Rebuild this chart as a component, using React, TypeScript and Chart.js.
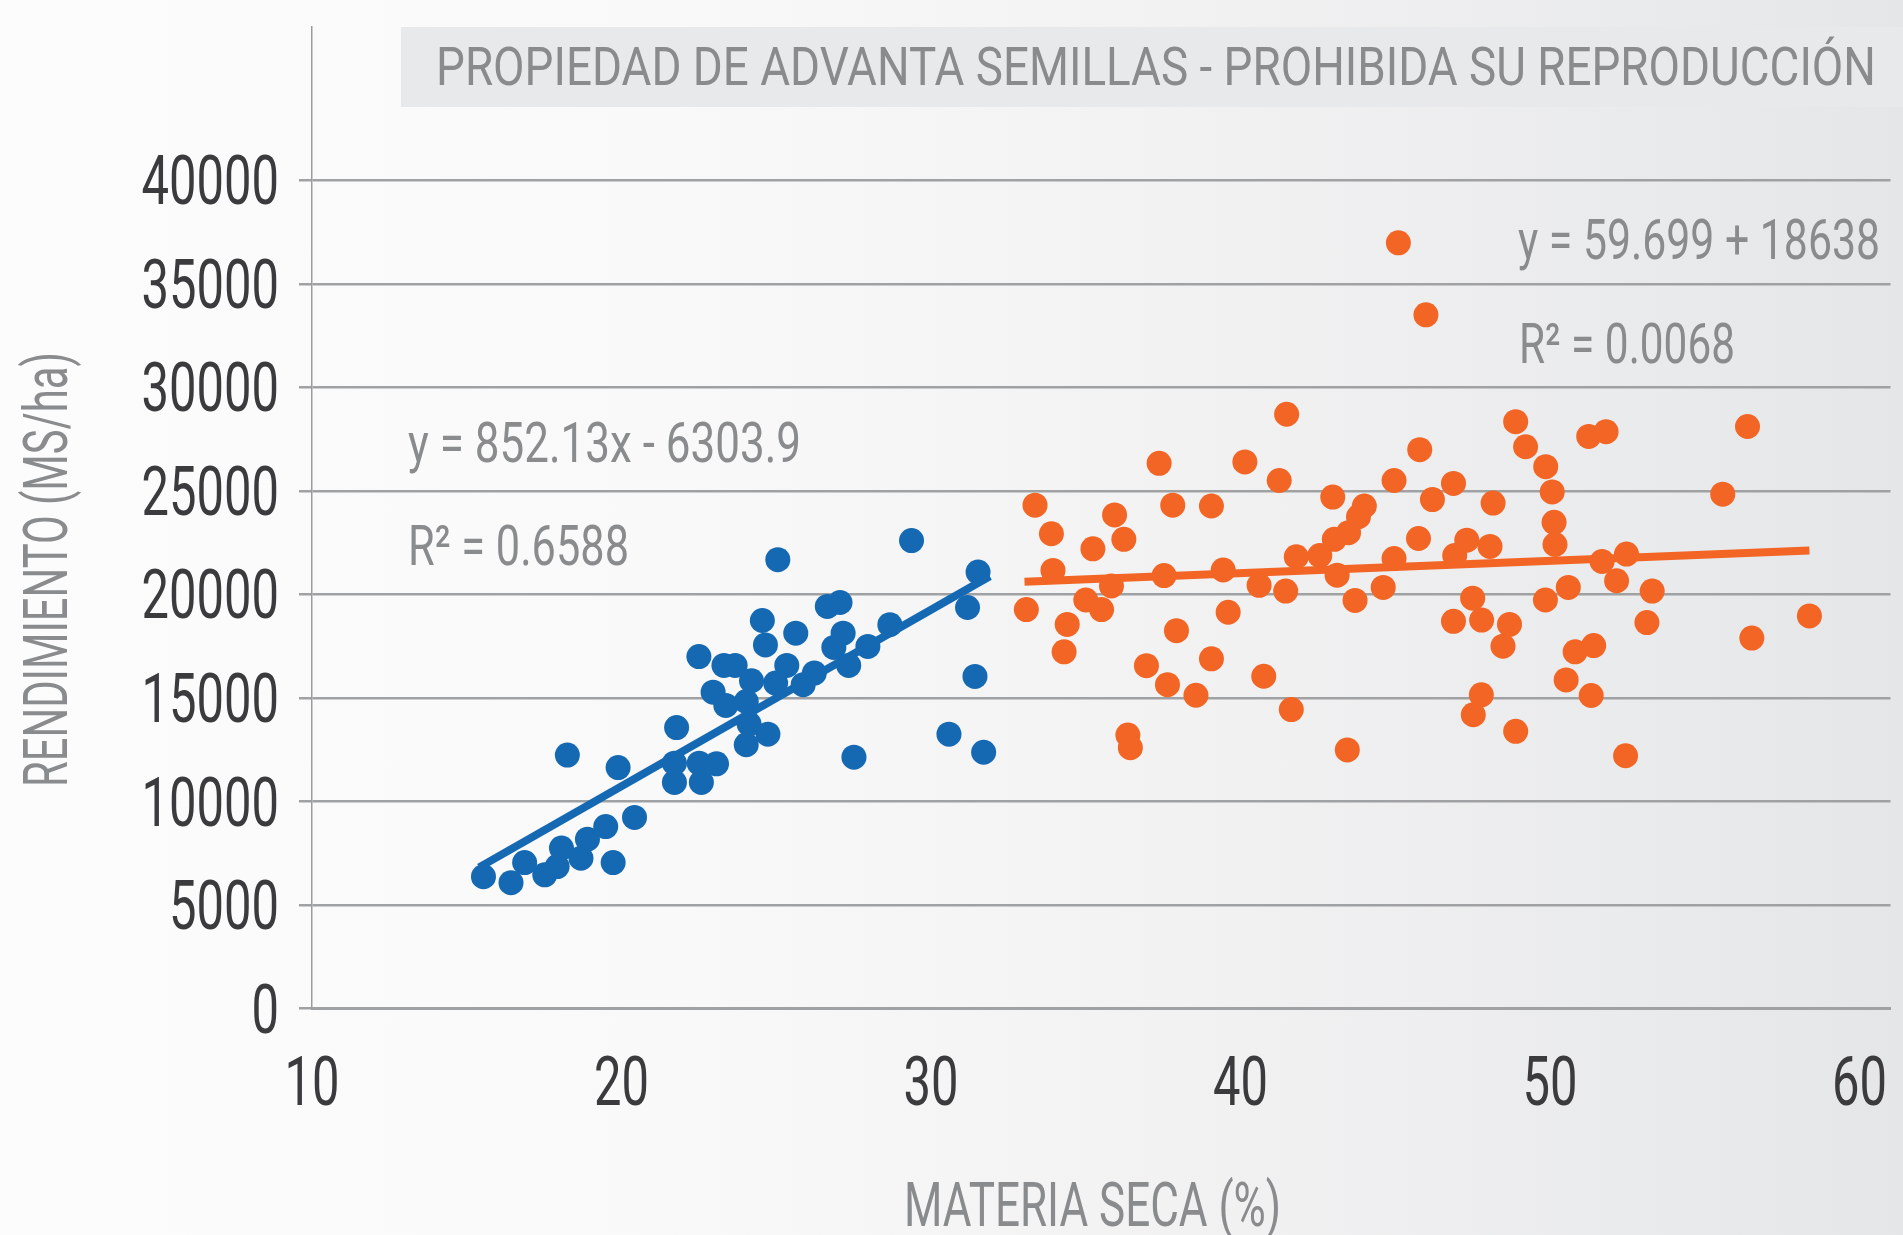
import React, { useEffect, useRef } from "react";
import { Chart, registerables } from "chart.js";

Chart.register(...registerables);

// ---------- data ----------
const blueX = [
  15.54, 16.43, 16.87, 17.52, 17.92, 18.06, 18.25, 18.69, 18.9, 19.49, 19.73, 19.89, 20.42,
  21.71, 21.71, 21.78, 22.5, 22.51, 22.58, 23.07, 22.96, 23.31, 23.37, 23.67, 24.03, 24.03,
  24.12, 24.2, 24.55, 24.65, 24.73, 24.98, 25.05, 25.34, 25.63, 25.87, 26.23, 26.65, 26.86,
  27.06, 27.16, 27.34, 27.51, 27.96, 28.67, 29.37, 30.58, 31.18, 31.42, 31.52, 31.7,
];
const blueY = [
  6370, 6080, 7050, 6460, 6860, 7750, 12240, 7260, 8180, 8790, 7050, 11640, 9230,
  10920, 11850, 13570, 17000, 11850, 10920, 11820, 15280, 16570, 14640, 16570, 14830, 12740,
  13750, 15830, 18740, 17560, 13250, 15720, 21680, 16570, 18130, 15640, 16200, 19420, 17440,
  19610, 18130, 16570, 12140, 17490, 18540, 22600, 13250, 19370, 16040, 21080, 12380,
];
const orangeX = [
  45.1, 45.99, 41.49, 37.37, 40.14, 41.25, 45.79, 44.96, 33.36, 37.81, 39.06, 42.98, 44.0,
  43.81, 46.2, 35.93, 33.89, 35.23, 36.23, 43.49, 43.03, 45.75, 33.94, 41.8, 42.56, 44.96,
  37.53, 39.44, 43.12, 35.83, 40.6, 41.46, 44.61, 43.7, 33.08, 35.0, 35.51, 39.6, 34.4,
  37.93, 34.3, 36.96, 39.06, 37.64, 38.56, 40.75, 41.64, 36.36, 36.44, 43.45,
  48.89, 49.21, 49.86, 50.07, 50.13, 50.16, 51.25, 51.81, 56.38, 55.58, 46.88, 48.16, 47.31,
  48.06, 46.92, 51.68, 52.47, 52.15, 50.59, 53.3, 47.5, 49.85, 46.88, 47.79, 48.69, 53.13,
  58.38, 48.48, 50.81, 51.41, 56.52, 50.52, 47.78, 51.33, 47.52, 48.89, 52.44,
];
const orangeY = [
  36980, 33500, 28700, 26330, 26400, 25500, 26990, 25500, 24310, 24310, 24270, 24700, 24270,
  23750, 24580, 23840, 22930, 22200, 22660, 22980, 22660, 22700, 21160, 21820, 21880, 21730,
  20910, 21180, 20930, 20410, 20440, 20160, 20340, 19710, 19270, 19730, 19270, 19140, 18550,
  18250, 17230, 16560, 16890, 15640, 15130, 16050, 14440, 13210, 12600, 12490,
  28340, 27130, 26170, 24950, 23480, 22410, 27630, 27860, 28110, 24840, 25360, 24410, 22620,
  22320, 21880, 21590, 21950, 20660, 20340, 20160, 19820, 19730, 18700, 18760, 18550, 18640,
  18960, 17500, 17230, 17530, 17890, 15870, 15150, 15120, 14190, 13390, 12210,
];
const blueTrendX = [15.4, 31.9];
const blueTrendY = [6820, 20880];
const orangeTrendX = [33.02, 58.38];
const orangeTrendY = [20610, 22120];

const xTicks = [10, 20, 30, 40, 50, 60];
const yTicks = [0, 5000, 10000, 15000, 20000, 25000, 30000, 35000, 40000];

const titleText = "PROPIEDAD DE ADVANTA SEMILLAS - PROHIBIDA SU REPRODUCCIÓN";
const xTitle = "MATERIA SECA (%)";
const yTitle = "RENDIMIENTO (MS/ha)";
const blueEq = "y = 852.13x - 6303.9";
const blueR2 = "R² = 0.6588";
const orangeEq = "y = 59.699 + 18638";
const orangeR2 = "R² = 0.0068";

// ---------- styles ----------
const FONT = "Roboto, 'DejaVu Sans', sans-serif";
const BLUE = "#1569b3";
const ORANGE = "#f26524";
const GREY_TEXT = "#8a8b8d";
const DARK_TEXT = "#3b3b3d";
const GRID = "#a0a1a3";
const TICK_SIZE = 68;
const TICK_SX = 0.72;

function fitText(
  ctx: CanvasRenderingContext2D,
  text: string,
  left: number,
  right: number,
  baseline: number,
  size: number,
  color: string
) {
  ctx.save();
  ctx.font = `400 ${size}px ${FONT}`;
  ctx.fillStyle = color;
  ctx.textAlign = "left";
  ctx.textBaseline = "alphabetic";
  const w = ctx.measureText(text).width;
  ctx.translate(left, baseline);
  ctx.scale((right - left) / w, 1);
  ctx.fillText(text, 0, 0);
  ctx.restore();
}

function tickText(
  ctx: CanvasRenderingContext2D,
  text: string,
  x: number,
  baseline: number,
  align: CanvasTextAlign
) {
  ctx.save();
  ctx.font = `400 ${TICK_SIZE}px ${FONT}`;
  ctx.fillStyle = DARK_TEXT;
  ctx.textAlign = align;
  ctx.textBaseline = "alphabetic";
  ctx.translate(x, baseline);
  ctx.scale(TICK_SX, 1);
  ctx.fillText(text, 0, 0);
  ctx.restore();
}

const textPlugin = {
  id: "texts",
  beforeDatasetsDraw(chart: any) {
    const ctx = chart.ctx as CanvasRenderingContext2D;
    ctx.save();
    ctx.fillStyle = "#e8e9ea";
    ctx.fillRect(401, 27, 1903 - 401, 80);
    ctx.restore();
  },
  afterDraw(chart: any) {
    const ctx = chart.ctx as CanvasRenderingContext2D;
    const xs = chart.scales.x;
    const ys = chart.scales.y;
    // tick labels, positioned by the chart's own scales
    for (const t of ys.ticks) {
      const py = ys.getPixelForValue(t.value);
      tickText(ctx, String(t.value), ys.right - 33, py + 24, "right");
    }
    for (const t of xs.ticks) {
      const px = xs.getPixelForValue(t.value);
      tickText(ctx, String(t.value), px, xs.top + 96, "center");
    }
    fitText(ctx, titleText, 436, 1876, 85, 54, GREY_TEXT);
    fitText(ctx, blueEq, 408, 801, 462, 56, GREY_TEXT);
    fitText(ctx, blueR2, 408, 629, 565, 56, GREY_TEXT);
    fitText(ctx, orangeEq, 1518, 1880, 259, 56, GREY_TEXT);
    fitText(ctx, orangeR2, 1519, 1735, 363, 56, GREY_TEXT);
    fitText(ctx, xTitle, 904, 1281, 1226, 62, GREY_TEXT);
    ctx.save();
    ctx.translate(67, 787);
    ctx.rotate(-Math.PI / 2);
    fitText(ctx, yTitle, 0, 787 - 352, 0, 62, GREY_TEXT);
    ctx.restore();
  },
};

export default function App() {
  const ref = useRef<HTMLCanvasElement | null>(null);

  useEffect(() => {
    document.body.style.margin = "0";
    const canvas = ref.current;
    if (!canvas) return;
    const chart = new Chart(canvas, {
      type: "scatter",
      data: {
        datasets: [
          {
            type: "line",
            label: "trend-blue",
            data: blueTrendX.map((x, i) => ({ x, y: blueTrendY[i] })),
            borderColor: BLUE,
            borderWidth: 8,
            borderCapStyle: "butt",
            pointRadius: 0,
            fill: false,
            tension: 0,
          } as any,
          {
            type: "line",
            label: "trend-orange",
            data: orangeTrendX.map((x, i) => ({ x, y: orangeTrendY[i] })),
            borderColor: ORANGE,
            borderWidth: 8,
            borderCapStyle: "butt",
            pointRadius: 0,
            fill: false,
            tension: 0,
          } as any,
          {
            label: "blue",
            data: blueX.map((x, i) => ({ x, y: blueY[i] })),
            backgroundColor: BLUE,
            borderWidth: 0,
            pointRadius: 12.5,
          },
          {
            label: "orange",
            data: orangeX.map((x, i) => ({ x, y: orangeY[i] })),
            backgroundColor: ORANGE,
            borderWidth: 0,
            pointRadius: 12.5,
          },
        ],
      },
      options: {
        responsive: false,
        animation: false,
        layout: { padding: { top: 27, right: 11, bottom: 0, left: 0 } },
        plugins: {
          legend: { display: false },
          tooltip: { enabled: false },
          title: { display: false },
        },
        scales: {
          x: {
            type: "linear",
            min: 10,
            max: 61,
            afterBuildTicks: (scale: any) => {
              scale.ticks = xTicks.map((v) => ({ value: v }));
            },
            afterFit: (scale: any) => {
              scale.height = 1235 - 1008.6;
              scale.paddingLeft = 0;
              scale.paddingRight = 0;
            },
            grid: { display: false, drawTicks: false },
            border: { display: true, color: GRID, width: 3 },
            ticks: { display: false },
          },
          y: {
            type: "linear",
            min: 0,
            max: 47400,
            afterBuildTicks: (scale: any) => {
              scale.ticks = yTicks.map((v) => ({ value: v }));
            },
            afterFit: (scale: any) => {
              scale.width = 312;
              scale.paddingTop = 0;
              scale.paddingBottom = 0;
            },
            grid: {
              display: true,
              color: GRID,
              lineWidth: 2.5,
              drawTicks: true,
              tickLength: 13,
            },
            border: { display: true, color: "#9a9b9d", width: 1.5 },
            ticks: { display: false },
          },
        },
      },
      plugins: [textPlugin],
    });
    return () => chart.destroy();
  }, []);

  return (
    <div
      style={{
        width: 1903,
        height: 1235,
        overflow: "hidden",
        background:
          "linear-gradient(to right, #fcfcfc 0%, #f9f9f9 35%, #f1f1f2 65%, #e9eaeb 88%, #e5e6e7 100%)",
      }}
    >
      <canvas ref={ref} width={1903} height={1235} style={{ display: "block", width: 1903, height: 1235 }} />
    </div>
  );
}
